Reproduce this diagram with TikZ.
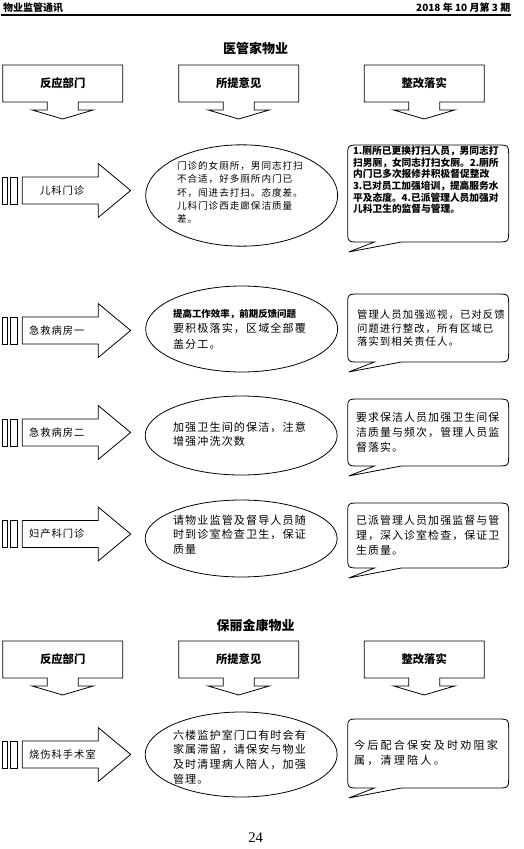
\documentclass[tikz,border=0pt]{standalone}
\usepackage{fontspec}
\setmainfont{Noto Sans CJK SC}
\newfontfamily\spc[LetterSpace=10]{Noto Sans CJK SC}
\newfontfamily\spcw[LetterSpace=20]{Noto Sans CJK SC}
\newfontfamily\numfont{Liberation Serif}
\usetikzlibrary{shapes.geometric, positioning, calc}

\begin{document}
\begin{tikzpicture}[
    x=0.75pt, y=-0.75pt,
    line width=0.6pt,
    headtxt/.style={font=\bfseries\fontsize{8.5}{10}\selectfont, inner sep=0pt},
    title/.style={font=\bfseries\fontsize{9.75}{11}\selectfont, inner sep=0pt},
    dept/.style={anchor=west, inner sep=0pt, font=\spc\fontsize{7.7}{9}\selectfont},
    ell/.style={ellipse, draw, minimum width=144pt, inner sep=0pt},
    etext/.style={anchor=west, align=left, inner sep=0pt},
    pics/downcall/.style={code={
        \draw (-60,0) -- (60,0) -- (60,37) -- (15.5,37) -- (15.5,45) -- (30.5,45)
              -- (0,54) -- (-30.5,45) -- (-15.5,45) -- (-15.5,37) -- (-60,37) -- cycle;
        \node[headtxt] (-lbl) at (0,18.5) {#1};
    }},
    pics/rarrow/.style={code={
        \draw (2,-13.5) rectangle (7,13.5);
        \draw (9.5,-13.5) rectangle (17,13.5);
        \draw (21.5,-13.5) -- (97.5,-13.5) -- (97.5,-27) -- (130,0) -- (97.5,27)
              -- (97.5,13.5) -- (21.5,13.5) -- cycle;
    }},
    pics/speech/.style={code={
        \draw (12,0) -- (149,0) .. controls (161,0) .. (161,12) -- (161,#1-12)
              .. controls (161,#1) .. (149,#1) -- (53.7,#1) -- (1,#1+10) -- (26.8,#1)
              -- (12,#1) .. controls (0,#1) .. (0,#1-12) -- (0,12)
              .. controls (0,0) .. (12,0) -- cycle;
    }}
]
\fill[white] (0,0) rectangle (523,849);

\node[anchor=west, inner sep=0pt, font=\bfseries\fontsize{7.5}{9}\selectfont] (hdl) at (2,8) {物业监管通讯};
\node[anchor=east, inner sep=0pt, font=\bfseries\fontsize{7.5}{9}\selectfont] (hdr) at (510,8) {2018 年 10 月第 3 期};
\coordinate (rl) at (0,15);
\coordinate (rr) at (510,15);
\draw[line width=1pt] (rl) -- (rr);

\node[title] (sec1) at (255,48) {医管家物业};
\pic (ha) at (62,65) {downcall=反应部门};
\pic (hb) at (238,65) {downcall=所提意见};
\pic (hc) at (423.5,65) {downcall=整改落实};

\pic (r1) at (0,190.5) {rarrow};
\pic (r2) at (0,330.5) {rarrow};
\pic (r3) at (0,432.5) {rarrow};
\pic (r4) at (0,534) {rarrow};
\node[dept] (d1) at (39,190.5) {儿科门诊};
\node[dept] (d2) at (28,330.5) {急救病房一};
\node[dept] (d3) at (28,432.5) {急救病房二};
\node[dept] (d4) at (28,534) {妇产科门诊};

\node[ell, minimum height=76pt] (e1) at (241,195.5) {};
\node[ell, minimum height=64.5pt] (e2) at (241,329) {};
\node[ell, minimum height=59.25pt] (e3) at (240.5,435.5) {};
\node[ell, minimum height=57.75pt] (e4) at (240.5,538.5) {};
\node[etext, font=\spc\fontsize{7.2}{10}\selectfont] (t1) at (176,192.5)
    {门诊的女厕所，男同志打扫\\不合适，好多厕所内门已\\坏，闯进去打扫。态度差。\\儿科门诊西走廊保洁质量\\差。};
\node[etext, font=\spc\fontsize{8.3}{11.6}\selectfont] (t2) at (172,329)
    {{\normalfont\bfseries\fontsize{7.1}{11.6}\selectfont 提高工作效率，前期反馈问题}\\要积极落实，区域全部覆\\盖分工。};
\node[etext, font=\spc\fontsize{8.3}{10.5}\selectfont] (t3) at (172,434)
    {加强卫生间的保洁，注意\\增强冲洗次数};
\node[etext, font=\spc\fontsize{8.3}{10.9}\selectfont] (t4) at (172,534.5)
    {请物业监管及督导人员随\\时到诊室检查卫生，保证\\质量};

\pic (s1) at (347,145) {speech=97};
\pic (s2) at (347,294) {speech=68};
\pic (s3) at (347,399) {speech=67};
\pic (s4) at (347,503) {speech=65};
\node[etext, font=\bfseries\fontsize{7.3}{8.75}\selectfont] (c1) at (352,180)
    {1.厕所已更换打扫人员，男同志打\\扫男厕，女同志打扫女厕。2.厕所\\内门已多次报修并积极督促整改\\3.已对员工加强培训，提高服务水\\平及态度。4.已派管理人员加强对\\儿科卫生的监督与管理。};
\node[etext, font=\spc\fontsize{7.8}{10.1}\selectfont] (c2) at (356,328.5)
    {管理人员加强巡视，已对反馈\\问题进行整改，所有区域已\\落实到相关责任人。};
\node[etext, font=\spc\fontsize{8.2}{11.25}\selectfont] (c3) at (355,432)
    {要求保洁人员加强卫生间保\\洁质量与频次，管理人员监\\督落实。};
\node[etext, font=\spc\fontsize{8.2}{11.25}\selectfont] (c4) at (355,535)
    {已派管理人员加强监督与管\\理，深入诊室检查，保证卫\\生质量。};

\node[title] (sec2) at (255,625) {保丽金康物业};
\pic (hd) at (62,641) {downcall=反应部门};
\pic (he) at (238,641) {downcall=所提意见};
\pic (hf) at (423.5,641) {downcall=整改落实};

\pic (r5) at (0,754.5) {rarrow};
\node[dept] (d5) at (28,754.5) {烧伤科手术室};
\node[ell, minimum height=63.75pt] (e5) at (240.5,754.5) {};
\node[etext, font=\spc\fontsize{8.3}{11}\selectfont] (t5) at (172,757)
    {六楼监护室门口有时会有\\家属滞留，请保安与物业\\及时清理病人陪人，加强\\管理。};
\pic (s5) at (347,719) {speech=69};
\node[etext, font=\spcw\fontsize{8.3}{11.25}\selectfont] (c5) at (353,752.5)
    {今后配合保安及时劝阻家\\属，清理陪人。};

\node[inner sep=0pt, font=\numfont\fontsize{11}{13}\selectfont] (pg) at (255,838) {24};
\end{tikzpicture}
\end{document}
